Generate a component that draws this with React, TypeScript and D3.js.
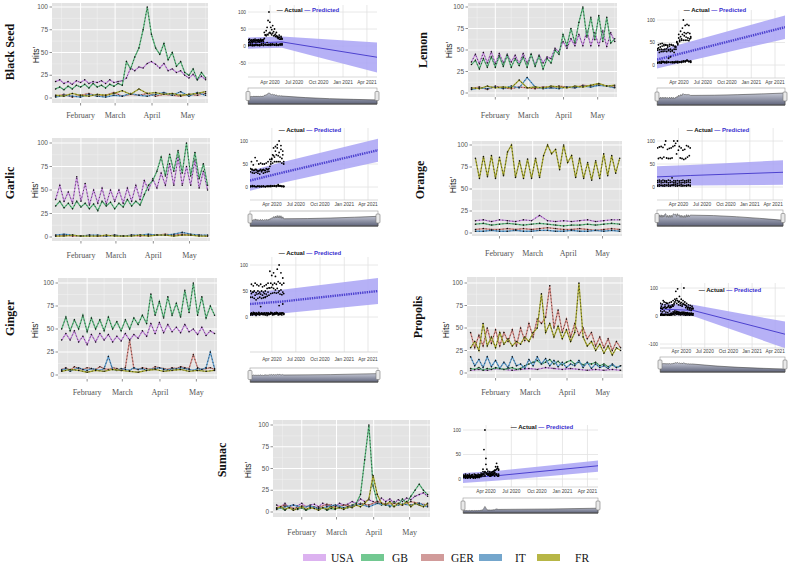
import React from 'react';
import * as d3 from 'd3';

// ---------- data ----------
const COUNTRIES = ['USA', 'GB', 'GER', 'IT', 'FR'];
const LINE_COLORS: Record<string, string> = { USA: '#c98ae3', GB: '#5cb97f', GER: '#d88a84', IT: '#5e9fd2', FR: '#a8a92e' };
const SWATCH_COLORS: Record<string, string> = { USA: '#dcb2f0', GB: '#72c891', GER: '#d19b9a', IT: '#74a6cc', FR: '#b7b646' };
const MONTHS = ['February', 'March', 'April', 'May'];
const FC_TICKS = ['Apr 2020', 'Jul 2020', 'Oct 2020', 'Jan 2021', 'Apr 2021'];
const FC_DATES = ['2020-01-09', '2020-05-16', '2021-05-09'];

// Black Seed
const bsUSA = [18, 20, 16, 18, 15, 19, 17, 20, 16, 18, 17, 19, 16, 20, 17, 18, 19, 22, 33, 30, 34, 33, 38, 40, 37, 33, 38, 30, 32, 28, 30, 25, 22, 26, 20, 24, 20];
const bsGB = [10, 12, 9, 13, 10, 14, 12, 15, 11, 16, 12, 14, 11, 15, 13, 16, 14, 40, 32, 45, 55, 75, 100, 70, 55, 48, 60, 42, 50, 35, 40, 28, 25, 32, 20, 28, 22];
const bsGER = [2, 4, 1, 3, 5, 2, 3, 6, 2, 4, 3, 5, 2, 4, 3, 2, 4, 3, 5];
const bsIT = [1, 3, 2, 1, 4, 2, 1, 3, 2, 5, 3, 2, 4, 6, 3, 7, 2, 6, 3];
const bsFR = [3, 2, 5, 3, 2, 4, 3, 5, 8, 4, 10, 5, 6, 4, 5, 3, 4, 5, 7];
const bsYhat = [8, 12, -33];
const bsLo = [-8, -5, -78];
const bsHi = [25, 28, 10];

// Lemon
const leUSA = [36, 45, 34, 47, 35, 48, 34, 46, 35, 45, 36, 44, 34, 46, 35, 45, 33, 44, 35, 42, 40, 52, 48, 60, 52, 63, 55, 68, 55, 72, 55, 70, 55, 72, 54, 70, 60];
const leGB = [33, 38, 28, 40, 30, 42, 30, 43, 31, 44, 30, 40, 32, 42, 30, 45, 31, 43, 28, 40, 35, 50, 45, 68, 55, 75, 58, 82, 100, 65, 88, 62, 90, 60, 88, 58, 63];
const leGER = [5, 7, 4, 8, 6, 5, 7, 6, 5, 7, 6, 8, 7, 6, 9, 8, 10, 8, 7];
const leIT = [4, 6, 5, 7, 5, 8, 6, 18, 7, 5, 6, 5, 7, 6, 8, 7, 9, 8, 6];
const leFR = [6, 5, 8, 6, 7, 6, 15, 6, 7, 6, 8, 7, 6, 8, 7, 9, 11, 8, 9];
const leYhat = [12, 31, 84];
const leLo = [-8, 10, 58];
const leHi = [32, 52, 110];

// Garlic
const gaUSA = [40, 55, 38, 48, 36, 64, 38, 57, 34, 50, 36, 52, 35, 50, 38, 50, 36, 52, 38, 55, 40, 60, 50, 62, 52, 68, 55, 78, 55, 85, 55, 75, 55, 82, 52, 70, 50];
const gaGB = [33, 38, 31, 36, 30, 38, 32, 36, 30, 35, 28, 38, 33, 37, 30, 36, 32, 40, 33, 38, 34, 45, 55, 60, 70, 85, 65, 88, 70, 92, 68, 100, 65, 90, 62, 78, 55];
const gaGER = [1, 2, 1, 1, 2, 1, 1, 2, 1, 2, 1, 2, 2, 3, 2, 3, 2, 2, 1];
const gaIT = [2, 3, 2, 1, 2, 2, 1, 2, 1, 2, 2, 3, 2, 2, 3, 5, 3, 2, 2];
const gaFR = [1, 1, 2, 1, 1, 1, 2, 1, 1, 1, 2, 1, 2, 2, 1, 2, 2, 1, 1];
const gaYhat = [14, 32, 80];
const gaLo = [-8, 10, 55];
const gaHi = [35, 55, 105];

// Orange
const orUSA = [14, 15, 13, 15, 14, 13, 15, 14, 20, 14, 13, 14, 13, 14, 15, 13, 14, 15, 15];
const orGB = [10, 11, 9, 10, 11, 10, 9, 10, 11, 10, 9, 8, 9, 9, 10, 9, 10, 11, 10];
const orGER = [4, 5, 4, 4, 5, 4, 5, 4, 5, 6, 5, 4, 4, 5, 4, 3, 4, 5, 4];
const orIT = [2, 2, 3, 2, 2, 3, 2, 2, 3, 3, 2, 2, 3, 2, 2, 3, 2, 3, 2];
const orFR = [85, 62, 87, 64, 88, 62, 86, 65, 92, 100, 63, 82, 62, 84, 62, 85, 63, 88, 100, 90, 95, 72, 100, 80, 88, 63, 85, 62, 80, 60, 82, 62, 90, 65, 88, 68, 85];
const orYhat = [22, 25, 32];
const orLo = [0, 3, 5];
const orHi = [45, 48, 58];

// Ginger
const giUSA = [38, 45, 38, 48, 36, 42, 33, 44, 36, 45, 38, 44, 36, 42, 37, 45, 38, 44, 40, 48, 42, 56, 45, 57, 46, 55, 47, 52, 46, 55, 47, 50, 44, 52, 43, 48, 45];
const giGB = [50, 63, 48, 60, 50, 65, 47, 62, 50, 60, 48, 63, 50, 58, 48, 60, 50, 62, 55, 65, 56, 88, 65, 80, 62, 85, 65, 78, 63, 92, 68, 100, 65, 85, 62, 75, 65];
const giGER = [6, 8, 5, 9, 7, 6, 8, 7, 6, 9, 7, 6, 8, 7, 5, 8, 38, 7, 6, 8, 7, 6, 9, 8, 7, 6, 8, 7, 9, 8, 7, 22, 8, 6, 7, 8, 6];
const giIT = [5, 7, 4, 6, 8, 6, 5, 7, 6, 5, 7, 20, 6, 5, 7, 6, 5, 8, 6, 7, 5, 6, 7, 8, 6, 5, 7, 6, 8, 7, 6, 5, 7, 6, 8, 25, 7];
const giFR = [4, 6, 5, 3, 5, 4, 6, 5, 4, 3, 5, 6, 4, 5, 6, 4, 5, 4, 5];
const giYhat = [25, 30, 50];
const giLo = [2, 7, 25];
const giHi = [48, 53, 75];

// Propolis
const prUSA = [3, 4, 3, 5, 4, 3, 4, 5, 4, 6, 5, 4, 5, 4, 3, 4, 3, 4, 3];
const prGB = [5, 4, 6, 3, 5, 4, 6, 5, 4, 5, 6, 4, 5, 8, 10, 12, 14, 10, 12, 15, 10, 13, 9, 12, 14, 10, 12, 9, 11, 10, 12, 8, 10, 7, 9, 6, 8];
const prGER = [45, 28, 42, 30, 50, 33, 48, 30, 45, 35, 48, 30, 50, 36, 55, 40, 60, 55, 62, 97, 50, 70, 45, 60, 40, 55, 42, 50, 38, 45, 30, 40, 28, 38, 25, 35, 28];
const prIT = [18, 8, 15, 6, 18, 7, 14, 5, 12, 6, 18, 8, 10, 5, 15, 8, 18, 10, 16, 8, 14, 7, 12, 6, 10, 8, 14, 6, 12, 5, 10, 6, 8, 5, 10, 6, 8];
const prFR = [28, 35, 25, 55, 30, 40, 28, 45, 32, 38, 30, 35, 32, 40, 35, 45, 50, 88, 45, 55, 40, 52, 38, 48, 35, 45, 100, 40, 30, 35, 25, 32, 22, 30, 20, 28, 25];
const prYhat = [25, 20, -65];
const prLo = [5, 0, -115];
const prHi = [45, 40, -20];

// Sumac
const suUSA = [8, 6, 10, 5, 8, 7, 10, 6, 8, 9, 6, 10, 7, 8, 6, 10, 8, 9, 12, 10, 15, 12, 14, 12, 10, 16, 12, 15, 10, 14, 12, 16, 14, 18, 20, 22, 18];
const suGB = [3, 5, 2, 6, 4, 3, 5, 2, 4, 6, 3, 5, 2, 4, 3, 6, 4, 5, 8, 10, 20, 60, 100, 30, 12, 8, 10, 6, 12, 8, 15, 10, 18, 25, 32, 25, 20];
const suGER = [5, 8, 4, 7, 6, 5, 9, 6, 8, 7, 10, 8, 12, 9, 10, 8, 12, 10, 8];
const suIT = [4, 6, 8, 5, 7, 4, 6, 8, 5, 7, 9, 6, 10, 8, 7, 9, 8, 10, 6];
const suFR = [4, 6, 3, 5, 2, 4, 6, 3, 5, 4, 2, 5, 3, 6, 4, 5, 3, 6, 5, 8, 6, 10, 15, 42, 20, 10, 8, 12, 6, 10, 8, 12, 6, 10, 8, 6, 10];
const suYhat = [2, 7, 27];
const suLo = [-8, -3, 15];
const suHi = [12, 17, 38];

// ---------- layout ----------
const DATA_START = new Date(2020, 0, 11);
const DATA_END = new Date(2020, 4, 16);
const L_DOMAIN: [Date, Date] = [new Date(2020, 0, 8), new Date(2020, 4, 18)];
const F_DOMAIN: [Date, Date] = [new Date(2020, 0, 9), new Date(2021, 4, 9)];

function spread(n: number): Date[] {
  const span = +DATA_END - +DATA_START;
  return d3.range(n).map((i) => new Date(+DATA_START + (span * i) / (n - 1)));
}

type Panel = {
  title: string;
  series: Record<string, number[]>;
  yhat: number[]; lo: number[]; hi: number[];
  L: { x0: number; x1: number; top: number; bottom: number; p0: number; p100: number; monthY: number; tx: number; ty: number; hx: number; hy: number };
  F: { x0: number; x1: number; top: number; bottom: number; p0: number; pv: number; v: number; ticks: number[]; legY: number; legX: number; tickY: number; s0: number; s1: number; thick: boolean };
};

const PANELS: Panel[] = [
  {
    title: 'Black Seed', series: { USA: bsUSA, GB: bsGB, GER: bsGER, IT: bsIT, FR: bsFR }, yhat: bsYhat, lo: bsLo, hi: bsHi,
    L: { x0: 52, x1: 208, top: 3, bottom: 103, p0: 98, p100: 7, monthY: 118, tx: 14, ty: 52, hx: 39, hy: 55 },
    F: { x0: 248, x1: 377, top: 5, bottom: 77, p0: 46, pv: 12, v: 100, ticks: [-50, 0, 50, 100], legY: 10, legX: 308, tickY: 84, s0: 88, s1: 104, thick: false },
  },
  {
    title: 'Lemon', series: { USA: leUSA, GB: leGB, GER: leGER, IT: leIT, FR: leFR }, yhat: leYhat, lo: leLo, hi: leHi,
    L: { x0: 468, x1: 617, top: 3, bottom: 97, p0: 93, p100: 7, monthY: 118, tx: 427, ty: 50, hx: 452, hy: 50 },
    F: { x0: 657, x1: 785, top: 10, bottom: 78, p0: 65, pv: 20, v: 100, ticks: [0, 50, 100], legY: 10, legX: 715, tickY: 84, s0: 88, s1: 105, thick: true },
  },
  {
    title: 'Garlic', series: { USA: gaUSA, GB: gaGB, GER: gaGER, IT: gaIT, FR: gaFR }, yhat: gaYhat, lo: gaLo, hi: gaHi,
    L: { x0: 52, x1: 210, top: 138, bottom: 241, p0: 237, p100: 143, monthY: 258, tx: 14, ty: 183, hx: 38, hy: 190 },
    F: { x0: 250, x1: 378, top: 128, bottom: 200, p0: 187, pv: 141, v: 100, ticks: [0, 50, 100], legY: 130, legX: 310, tickY: 206, s0: 211, s1: 226, thick: true },
  },
  {
    title: 'Orange', series: { USA: orUSA, GB: orGB, GER: orGER, IT: orIT, FR: orFR }, yhat: orYhat, lo: orLo, hi: orHi,
    L: { x0: 472, x1: 622, top: 141, bottom: 236, p0: 233, p100: 145, monthY: 256, tx: 424, ty: 180, hx: 456, hy: 185 },
    F: { x0: 657, x1: 783, top: 128, bottom: 200, p0: 187, pv: 141, v: 100, ticks: [0, 50, 100], legY: 130, legX: 718, tickY: 206, s0: 210, s1: 226, thick: false },
  },
  {
    title: 'Ginger', series: { USA: giUSA, GB: giGB, GER: giGER, IT: giIT, FR: giFR }, yhat: giYhat, lo: giLo, hi: giHi,
    L: { x0: 58, x1: 217, top: 278, bottom: 379, p0: 375, p100: 283, monthY: 395, tx: 14, ty: 318, hx: 38, hy: 330 },
    F: { x0: 250, x1: 378, top: 257, bottom: 352, p0: 317, pv: 265, v: 100, ticks: [0, 50, 100], legY: 253, legX: 310, tickY: 361, s0: 368, s1: 382, thick: true },
  },
  {
    title: 'Propolis', series: { USA: prUSA, GB: prGB, GER: prGER, IT: prIT, FR: prFR }, yhat: prYhat, lo: prLo, hi: prHi,
    L: { x0: 467, x1: 623, top: 277, bottom: 378, p0: 373, p100: 283, monthY: 395, tx: 422, ty: 317, hx: 449, hy: 330 },
    F: { x0: 660, x1: 785, top: 283, bottom: 348, p0: 316, pv: 288, v: 100, ticks: [-100, 0, 100], legY: 290, legX: 730, tickY: 353, s0: 357, s1: 372, thick: false },
  },
  {
    title: 'Sumac', series: { USA: suUSA, GB: suGB, GER: suGER, IT: suIT, FR: suFR }, yhat: suYhat, lo: suLo, hi: suHi,
    L: { x0: 273, x1: 430, top: 420, bottom: 517, p0: 512, p100: 425, monthY: 535, tx: 226, ty: 460, hx: 251, hy: 470 },
    F: { x0: 463, x1: 598, top: 425, bottom: 487, p0: 479, pv: 430, v: 100, ticks: [0, 50, 100], legY: 427, legX: 542, tickY: 493, s0: 498, s1: 513, thick: false },
  },
];

const SANS = 'Liberation Sans, Arial, sans-serif';
const SERIF = 'Liberation Serif, Times New Roman, serif';

function LeftPanel({ p, idx }: { p: Panel; idx: number }) {
  const L = p.L;
  const x = d3.scaleTime().domain(L_DOMAIN).range([L.x0, L.x1]);
  const y = d3.scaleLinear().domain([0, 100]).range([L.p0, L.p100]);
  const monthStarts = [new Date(2020, 1, 1), new Date(2020, 2, 1), new Date(2020, 3, 1), new Date(2020, 4, 1)];
  const minorV = [new Date(2020, 0, 16), new Date(2020, 1, 15), new Date(2020, 2, 16), new Date(2020, 3, 16), new Date(2020, 4, 16)];
  const line = d3.line<[Date, number]>().x((d) => x(d[0])).y((d) => y(d[1]));
  const clipId = `lclip${idx}`;
  return (
    <g>
      <defs>
        <clipPath id={clipId}><rect x={L.x0} y={L.top} width={L.x1 - L.x0} height={L.bottom - L.top} /></clipPath>
      </defs>
      <rect x={L.x0} y={L.top} width={L.x1 - L.x0} height={L.bottom - L.top} fill="#e3e3e3" />
      {[12.5, 37.5, 62.5, 87.5].map((v) => (
        <line key={'mh' + v} x1={L.x0} x2={L.x1} y1={y(v)} y2={y(v)} stroke="#f2f2f2" strokeWidth={0.5} />
      ))}
      {minorV.map((d, i) => (
        <line key={'mv' + i} x1={x(d)} x2={x(d)} y1={L.top} y2={L.bottom} stroke="#f2f2f2" strokeWidth={0.5} />
      ))}
      {[0, 25, 50, 75, 100].map((v) => (
        <line key={'h' + v} x1={L.x0} x2={L.x1} y1={y(v)} y2={y(v)} stroke="#ffffff" strokeWidth={1} />
      ))}
      {monthStarts.map((d, i) => (
        <line key={'v' + i} x1={x(d)} x2={x(d)} y1={L.top} y2={L.bottom} stroke="#ffffff" strokeWidth={1} />
      ))}
      <g clipPath={`url(#${clipId})`}>
        {COUNTRIES.map((c) => {
          const vals = p.series[c];
          const ds = spread(vals.length);
          const pts: [Date, number][] = vals.map((v, i) => [ds[i], v]);
          return (
            <g key={c}>
              <path d={line(pts) || ''} fill="none" stroke={LINE_COLORS[c]} strokeWidth={1.3} />
              <path d={line(pts) || ''} fill="none" stroke="#111" strokeWidth={0.6} strokeDasharray="1.2,2.2" />
              {pts.map((d, i) => (
                <circle key={i} cx={x(d[0])} cy={y(d[1])} r={0.75} fill="#111" />
              ))}
            </g>
          );
        })}
      </g>
      {[0, 25, 50, 75, 100].map((v) => (
        <g key={'yt' + v}>
          <line x1={L.x0 - 2.5} x2={L.x0} y1={y(v)} y2={y(v)} stroke="#444" strokeWidth={0.6} />
          <text x={L.x0 - 4} y={y(v) + 2.2} fontSize={6.5} fontFamily={SANS} fill="#555" textAnchor="end">{v}</text>
        </g>
      ))}
      {monthStarts.map((d, i) => (
        <g key={'xt' + i}>
          <line x1={x(d)} x2={x(d)} y1={L.bottom} y2={L.bottom + 2.5} stroke="#444" strokeWidth={0.6} />
          <text x={x(d)} y={L.monthY} fontSize={8} fontFamily={SERIF} fill="#555" textAnchor="middle">{MONTHS[i]}</text>
        </g>
      ))}
      <text transform={`translate(${L.hx},${L.hy}) rotate(-90)`} fontSize={8.5} fontFamily={SANS} fill="#222" textAnchor="middle">Hits'</text>
      <text transform={`translate(${L.tx},${L.ty}) rotate(-90)`} fontSize={12} fontWeight="bold" fontFamily={SERIF} fill="#111" textAnchor="middle">{p.title}</text>
    </g>
  );
}

function ForecastPanel({ p, idx }: { p: Panel; idx: number }) {
  const F = p.F;
  const x = d3.scaleTime().domain(F_DOMAIN).range([F.x0, F.x1]);
  const y = d3.scaleLinear().domain([0, F.v]).range([F.p0, F.pv]);
  const fcDates = FC_DATES.map((s) => new Date(s + 'T00:00:00'));
  const band = d3.area<number>().x((_, i) => x(fcDates[i])).y0((_, i) => y(p.lo[i])).y1((_, i) => y(p.hi[i]));
  const line = d3.line<number>().x((_, i) => x(fcDates[i])).y((d) => y(d));
  const tickDates = [new Date(2020, 3, 1), new Date(2020, 6, 1), new Date(2020, 9, 1), new Date(2021, 0, 1), new Date(2021, 3, 1)];
  const clipId = `fclip${idx}`;
  // range slider mini chart, same value domain as the main plot
  const my = d3.scaleLinear().domain([y.invert(F.bottom), y.invert(F.top)]).range([F.s1, F.s0 + 1]);
  const miniPts: [Date, number][] = [];
  const dsMain = spread(37);
  const mainKeys = COUNTRIES.filter((c) => p.series[c].length === 37);
  dsMain.forEach((d, i) => {
    const m = d3.mean(mainKeys.map((k) => p.series[k][i])) || 0;
    miniPts.push([d, m]);
  });
  miniPts.push([fcDates[2], p.yhat[2]]);
  const miniArea = d3.area<[Date, number]>().x((d) => x(d[0])).y0(F.s1).y1((d) => my(d[1])).curve(d3.curveMonotoneX);
  const gid = `grad${idx}`;
  return (
    <g>
      <defs>
        <clipPath id={clipId}><rect x={F.x0} y={F.top} width={F.x1 - F.x0} height={F.bottom - F.top} /></clipPath>
        <linearGradient id={gid} x1="0" x2="0" y1="0" y2="1">
          <stop offset="0%" stopColor="#c4c7d4" />
          <stop offset="100%" stopColor="#5f647b" />
        </linearGradient>
      </defs>
      {tickDates.map((d, i) => (
        <line key={'gv' + i} x1={x(d)} x2={x(d)} y1={F.top} y2={F.bottom} stroke="#e2e2e2" strokeWidth={0.8} />
      ))}
      {F.ticks.map((v) => (
        <line key={'gh' + v} x1={F.x0} x2={F.x1} y1={y(v)} y2={y(v)} stroke="#e2e2e2" strokeWidth={0.8} />
      ))}
      <g clipPath={`url(#${clipId})`}>
        <path d={band(p.yhat) || ''} fill="#a9a3f5" fillOpacity={0.85} />
        <path d={line(p.yhat) || ''} fill="none" stroke="#4d42cf" strokeWidth={F.thick ? 2.4 : 1} strokeDasharray={F.thick ? '1.4,0.9' : undefined} />
        {COUNTRIES.map((c) => {
          const vals = p.series[c];
          const ds = spread(vals.length);
          return vals.map((v, i) => <circle key={c + i} cx={x(ds[i])} cy={y(v)} r={0.9} fill="#000" />);
        })}
      </g>
      <line x1={F.x0} x2={F.x1} y1={F.bottom} y2={F.bottom} stroke="#cfcfcf" strokeWidth={0.8} />
      {F.ticks.map((v) => (
        <text key={'yl' + v} x={F.x0 - 2} y={y(v) + 1.7} fontSize={4.8} fontFamily={SANS} fill="#444" textAnchor="end">{v}</text>
      ))}
      {tickDates.map((d, i) => (
        <text key={'xl' + i} x={x(d)} y={F.tickY} fontSize={4.8} fontFamily={SANS} fill="#444" textAnchor="middle">{FC_TICKS[i]}</text>
      ))}
      <text x={F.legX} y={F.legY + 2} fontSize={6} fontWeight="bold" fontFamily={SANS} textAnchor="middle">
        <tspan fill="#111">— Actual </tspan>
        <tspan fill="#3a2fd0">— Predicted</tspan>
      </text>
      {/* range slider */}
      <rect x={F.x0} y={F.s0} width={F.x1 - F.x0} height={F.s1 - F.s0} fill="#ffffff" stroke="#9a9a9a" strokeWidth={0.6} />
      <path d={miniArea(miniPts) || ''} fill={`url(#${gid})`} stroke="#444" strokeWidth={0.6} />
      <line x1={F.x0} x2={F.x1} y1={F.s1} y2={F.s1} stroke="#555" strokeWidth={1} />
      <rect x={F.x0 - 2} y={(F.s0 + F.s1) / 2 - 4.5} width={4} height={9} rx={1} fill="#e9e9e9" stroke="#777" strokeWidth={0.6} />
      <rect x={F.x1 - 2} y={(F.s0 + F.s1) / 2 - 4.5} width={4} height={9} rx={1} fill="#e9e9e9" stroke="#777" strokeWidth={0.6} />
    </g>
  );
}

function Legend() {
  const xs = [303, 361, 421, 479, 537];
  const tx = [331, 392, 451, 515, 575];
  return (
    <g>
      {COUNTRIES.map((c, i) => (
        <g key={c}>
          <rect x={xs[i]} y={554} width={23} height={7} fill={SWATCH_COLORS[c]} />
          <text x={tx[i]} y={562} fontSize={11.5} fontFamily={SERIF} fill="#111">{c}</text>
        </g>
      ))}
    </g>
  );
}

export default function App() {
  return (
    <svg width={793} height={566} viewBox="0 0 793 566" style={{ position: 'absolute', left: 0, top: 0, background: '#fff' }}>
      <rect x={0} y={0} width={793} height={566} fill="#fff" />
      {PANELS.map((p, i) => (
        <g key={p.title}>
          <LeftPanel p={p} idx={i} />
          <ForecastPanel p={p} idx={i} />
        </g>
      ))}
      <Legend />
    </svg>
  );
}
